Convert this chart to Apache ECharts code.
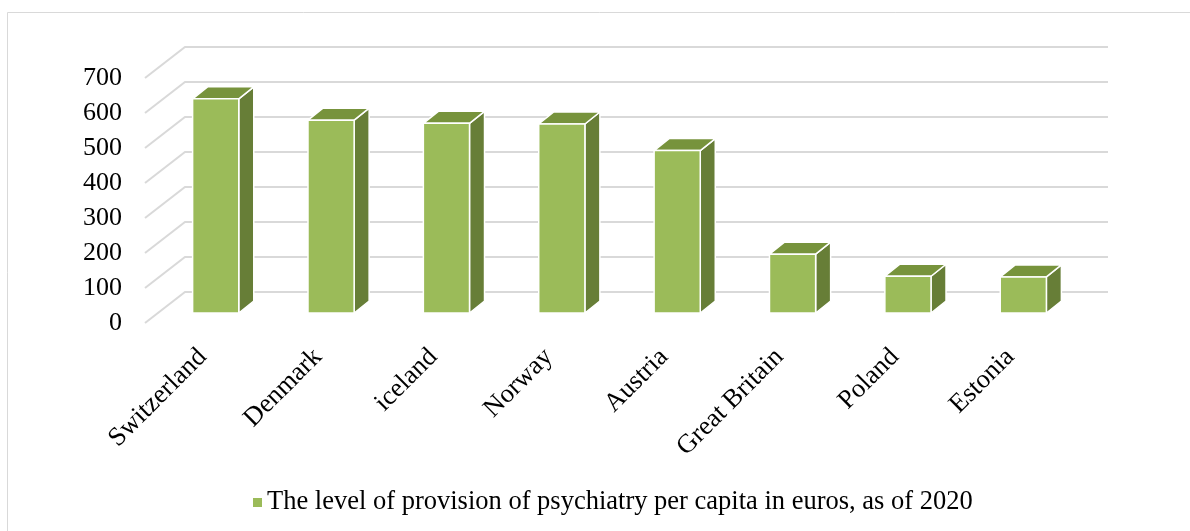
<!DOCTYPE html>
<html>
<head>
<meta charset="utf-8">
<script src="https://cdn.jsdelivr.net/npm/echarts@6/dist/echarts.min.js"></script>
<style>
html,body{margin:0;padding:0;background:#fff;}
#chart{width:1190px;height:531px;}
</style>
</head>
<body>
<div id="chart"></div>
<script>
const categories = ['Switzerland', 'Denmark', 'iceland', 'Norway', 'Austria', 'Great Britain', 'Poland', 'Estonia'];
const values = [612, 551, 542, 540, 464, 168, 105, 103];
const yTicks = [0, 100, 200, 300, 400, 500, 600, 700];
const seriesName = 'The level of provision of psychiatry per capita in euros, as of 2020';

const FONT = 'Liberation Serif';
const WALL = [40, -31];      // depth vector of the chart box
const BARD = [15, -12];      // depth of a bar
const FRONT = '#9BBB59', TOP = '#77933C', SIDE = '#677E37', GRIDC = '#d9d9d9';

const chart = echarts.init(document.getElementById('chart'));
chart.setOption({
  backgroundColor: '#fff',
  animation: false,
  graphic: [{
    type: 'rect', silent: true,
    shape: {x: 7.5, y: 12.5, width: 1300, height: 700},
    style: {fill: 'none', stroke: '#d9d9d9', lineWidth: 1}
  }],
  legend: {
    left: 248, top: 484,
    itemWidth: 9, itemHeight: 9, itemGap: 5,
    icon: 'rect',
    textStyle: {fontFamily: FONT, fontSize: 26.5, color: '#000'},
    data: [{name: seriesName, itemStyle: {color: FRONT}}]
  },
  grid: [
    {left: 145, right: 122, top: 78, bottom: 208},
    {left: 158, right: 109, top: 68, bottom: 218}
  ],
  xAxis: [
    {type: 'category', gridIndex: 0, data: categories,
     axisLine: {show: false}, axisTick: {show: false}, splitLine: {show: false},
     axisLabel: {rotate: 45, margin: 30, interval: 0, fontFamily: FONT, fontSize: 26.5, color: '#000'}},
    {type: 'category', gridIndex: 1, data: categories, show: false}
  ],
  yAxis: [
    {type: 'value', gridIndex: 0, min: 0, max: 700, interval: 100,
     axisLine: {show: false}, axisTick: {show: false}, splitLine: {show: false},
     axisLabel: {margin: 23, fontFamily: FONT, fontSize: 26, color: '#000'}},
    {type: 'value', gridIndex: 1, min: 0, max: 700, interval: 100, show: false, splitLine: {show: false}}
  ],
  series: [
    {
      type: 'custom', name: 'walls', xAxisIndex: 0, yAxisIndex: 0, silent: true,
      data: yTicks.map(v => [0, v]),
      renderItem: function (params, api) {
        const cs = params.coordSys;
        const y = api.coord([0, api.value(1)])[1];
        return {
          type: 'polyline',
          shape: {points: [[cs.x, y], [cs.x + WALL[0], y + WALL[1]], [cs.x + cs.width + WALL[0], y + WALL[1]]]},
          style: {stroke: GRIDC, lineWidth: 2, fill: null}
        };
      }
    },
    {
      type: 'custom', name: seriesName, xAxisIndex: 1, yAxisIndex: 1,
      itemStyle: {color: FRONT},
      data: values.map((v, i) => [i, v]),
      renderItem: function (params, api) {
        const i = api.value(0), v = api.value(1);
        const base = api.coord([i, 0]);
        const top = api.coord([i, v]);
        const w = api.size([1, 0])[0] * 0.4;
        const x0 = base[0] - w / 2, x1 = base[0] + w / 2;
        const yb = base[1], yt = top[1];
        const dx = BARD[0], dy = BARD[1];
        const st = {stroke: '#fff', lineWidth: 1.5, lineJoin: 'round'};
        return {
          type: 'group',
          children: [
            {type: 'polygon', shape: {points: [[x1, yt], [x1 + dx, yt + dy], [x1 + dx, yb + dy], [x1, yb]]},
             style: Object.assign({fill: SIDE}, st)},
            {type: 'polygon', shape: {points: [[x0, yt], [x1, yt], [x1 + dx, yt + dy], [x0 + dx, yt + dy]]},
             style: Object.assign({fill: TOP}, st)},
            {type: 'rect', shape: {x: x0, y: yt, width: w, height: yb - yt},
             style: Object.assign({fill: FRONT}, st)}
          ]
        };
      }
    }
  ]
});
</script>
</body>
</html>
